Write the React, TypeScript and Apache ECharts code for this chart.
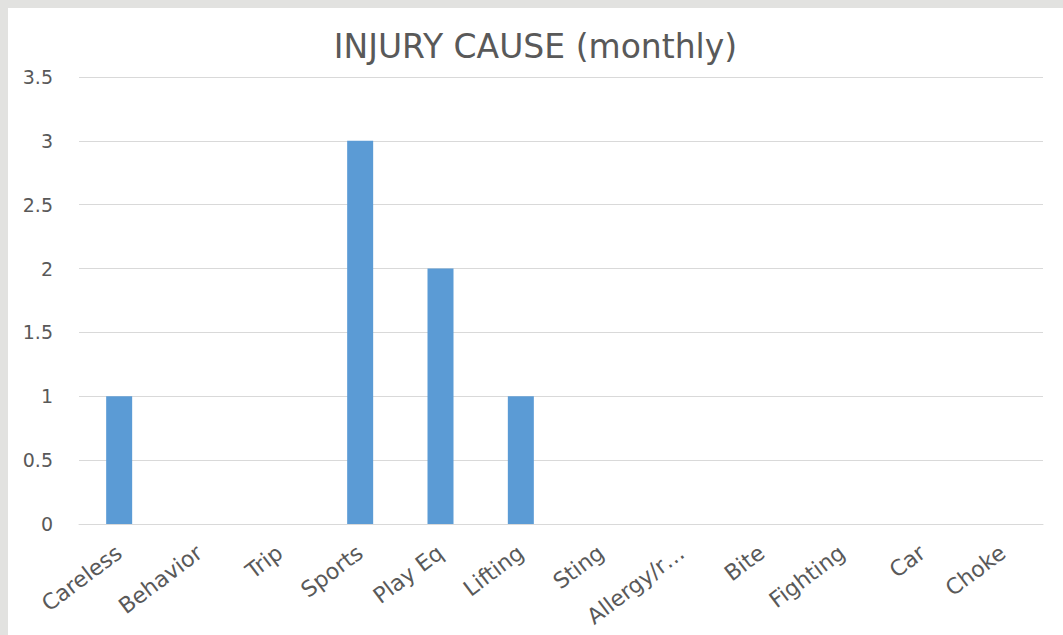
import React, { useEffect, useRef } from "react";
import * as echarts from "echarts";

const categories = ["Careless", "Behavior", "Trip", "Sports", "Play Eq", "Lifting", "Sting", "Allergy/r…", "Bite", "Fighting", "Car", "Choke"];
const values = [1, 0, 0, 3, 2, 1, 0, 0, 0, 0, 0, 0];
const titleText = "INJURY CAUSE (monthly)";
const FONT = "DejaVu Sans";

export default function App() {
  const ref = useRef<HTMLDivElement>(null);
  useEffect(() => {
    if (!ref.current) return;
    const chart = echarts.init(ref.current, null, { renderer: "svg" });
    chart.setOption({
      animation: false,
      backgroundColor: "#ffffff",
      textStyle: { fontFamily: FONT },
      title: {
        text: titleText,
        left: "center",
        top: 17,
        textStyle: { fontSize: 33, fontWeight: "normal", color: "#595959", fontFamily: FONT },
      },
      grid: { left: 71, right: 20, top: 69, bottom: 111 },
      xAxis: {
        type: "category",
        data: categories,
        axisLine: { show: true, lineStyle: { color: "#d9d9d9" } },
        axisTick: { show: false },
        axisLabel: { rotate: 37, fontSize: 22, color: "#595959", margin: 26, interval: 0, fontFamily: FONT },
      },
      yAxis: {
        type: "value",
        min: 0,
        max: 3.5,
        interval: 0.5,
        axisLine: { show: false },
        axisTick: { show: false },
        splitLine: { lineStyle: { color: "#d9d9d9" } },
        axisLabel: { fontSize: 19, color: "#595959", margin: 26, fontFamily: FONT },
      },
      series: [
        {
          type: "bar",
          data: values,
          barWidth: 26,
          itemStyle: { color: "#5b9bd5" },
        },
      ],
    });
    return () => chart.dispose();
  }, []);
  return (
    <div style={{ position: "absolute", left: 0, top: 0, width: 1063, height: 635, background: "#e2e2e0", overflow: "hidden" }}>
      <div ref={ref} style={{ position: "absolute", left: 8, top: 8, width: 1055, height: 627 }} />
    </div>
  );
}
